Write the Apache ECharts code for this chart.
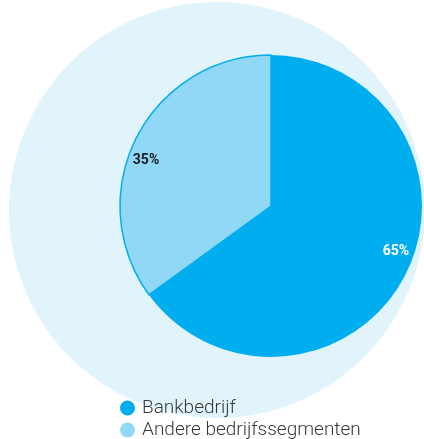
<!DOCTYPE html>
<html>
<head>
<meta charset="utf-8">
<script src="https://cdn.jsdelivr.net/npm/echarts@6/dist/echarts.min.js"></script>
<style>
  html, body { margin: 0; padding: 0; background: #ffffff; }
  #chart { width: 424px; height: 439px; }
</style>
</head>
<body>
<div id="chart"></div>
<script>
// Share of each business segment
const segments = ['Bankbedrijf', 'Andere bedrijfssegmenten'];
const shares = [65, 35];
const segmentColors = ['#00aeef', '#91d8f6'];
const labelColors = ['#ffffff', '#1a1a1a'];

const chart = echarts.init(document.getElementById('chart'));

const sliceData = segments.map((name, i) => ({
  name,
  value: shares[i],
  itemStyle: {
    color: segmentColors[i],
    borderColor: '#00aeef',
    borderWidth: i === 1 ? 1.5 : 0
  }
}));

// transparent ring that only carries the percentage labels
const labelData = segments.map((name, i) => ({
  name,
  value: shares[i],
  itemStyle: { color: 'rgba(0,0,0,0)' },
  label: { color: labelColors[i] }
}));

chart.setOption({
  animation: false,
  graphic: [{
    type: 'circle',
    z: -10,
    shape: { cx: 217, cy: 210, r: 208 },
    style: { fill: '#e1f3fb' },
    silent: true
  }],
  legend: {
    orient: 'vertical',
    left: 120,
    top: 398,
    height: 60,
    padding: 0,
    icon: 'circle',
    itemWidth: 15,
    itemHeight: 15,
    itemGap: 2,
    selectedMode: false,
    data: segments,
    itemStyle: { borderWidth: 0 },
    textStyle: {
      fontFamily: 'Roboto',
      fontWeight: 300,
      fontSize: 19,
      lineHeight: 20,
      color: '#3a3a3a',
      padding: [0, 0, 0, 2]
    }
  },
  series: [
    {
      type: 'pie',
      center: [271, 206],
      radius: [0, 151],
      startAngle: 90,
      clockwise: true,
      silent: true,
      label: { show: false },
      labelLine: { show: false },
      data: sliceData
    },
    {
      type: 'pie',
      center: [271, 206],
      radius: [108, 152],
      startAngle: 97,
      clockwise: true,
      silent: true,
      legendHoverLink: false,
      label: {
        show: true,
        position: 'inside',
        formatter: '{c}%',
        fontFamily: 'Roboto',
        fontWeight: 'bold',
        fontSize: 14
      },
      labelLine: { show: false },
      data: labelData
    }
  ]
});
</script>
</body>
</html>
